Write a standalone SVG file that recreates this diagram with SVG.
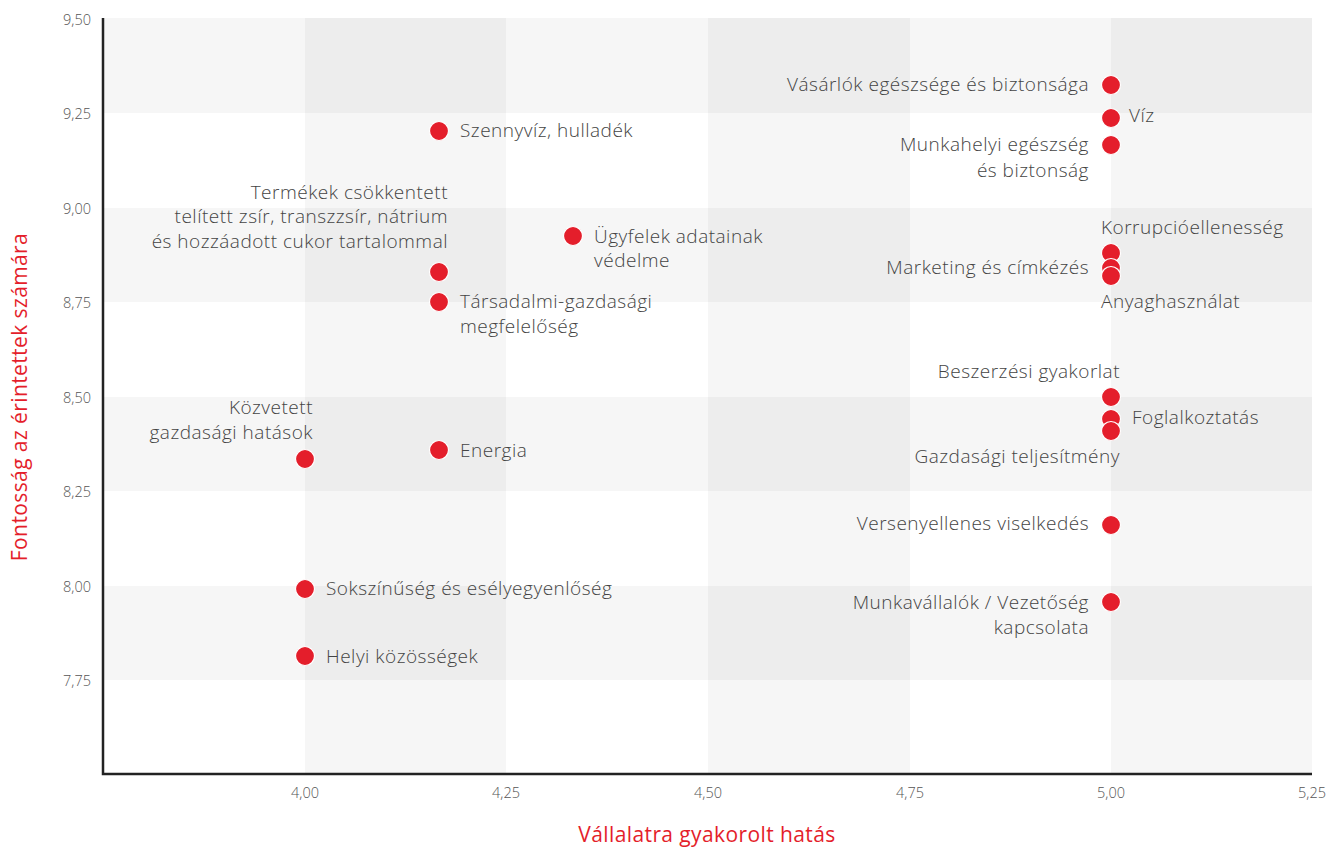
<svg xmlns="http://www.w3.org/2000/svg" width="1328" height="847" viewBox="0 0 1328 847">
<style>
.band{fill:#000;fill-opacity:0.035}
.axis{stroke:#222;stroke-width:2.5;fill:none}
.tick{font-family:"Open Sans",Lato,sans-serif;font-size:14.5px;fill:#555;font-weight:300}
.lbl{font-family:"Open Sans",Lato,sans-serif;font-size:19px;fill:#444;font-weight:300;letter-spacing:0.5px}
.title{font-family:"Open Sans",Lato,sans-serif;font-size:21px;fill:#e41e2b;letter-spacing:0.4px}
.dot{fill:#e41e2b;stroke:#fff;stroke-width:1.2}
.end{text-anchor:end}
.mid{text-anchor:middle}
</style>
<rect width="1328" height="847" fill="#fff"/>
<g id="bands">
<rect class="band" x="103" y="18" width="1209" height="95"/>
<rect class="band" x="103" y="208" width="1209" height="94"/>
<rect class="band" x="103" y="397" width="1209" height="94"/>
<rect class="band" x="103" y="586" width="1209" height="94"/>
<rect class="band" x="305" y="18" width="201" height="756"/>
<rect class="band" x="708" y="18" width="202" height="756"/>
<rect class="band" x="1111" y="18" width="201" height="756"/>
</g>
<g id="connectors">
<path class="axis" d="M103,18 V774 H1312"/>
</g>
<g id="ticks">
<text class="tick end" x="91" y="25">9,50</text>
<text class="tick end" x="91" y="119">9,25</text>
<text class="tick end" x="91" y="214">9,00</text>
<text class="tick end" x="91" y="308">8,75</text>
<text class="tick end" x="91" y="403">8,50</text>
<text class="tick end" x="91" y="497">8,25</text>
<text class="tick end" x="91" y="592">8,00</text>
<text class="tick end" x="91" y="686">7,75</text>
<text class="tick mid" x="305" y="798">4,00</text>
<text class="tick mid" x="506" y="798">4,25</text>
<text class="tick mid" x="708" y="798">4,50</text>
<text class="tick mid" x="910" y="798">4,75</text>
<text class="tick mid" x="1111" y="798">5,00</text>
<text class="tick mid" x="1312" y="798">5,25</text>
</g>
<g id="titles">
<text class="title mid" x="707" y="842">Vállalatra gyakorolt hatás</text>
<text class="title mid" transform="translate(27,397) rotate(-90)">Fontosság az érintettek számára</text>
</g>
<g id="n-vasarlok"><circle class="dot" cx="1111" cy="85" r="9.5"/><text class="lbl end" x="1089" y="91">Vásárlók egészsége és biztonsága</text></g>
<g id="n-viz"><circle class="dot" cx="1111" cy="118" r="9.5"/><text class="lbl" x="1129" y="122">Víz</text></g>
<g id="n-munkahelyi"><circle class="dot" cx="1111" cy="145" r="9.5"/><text class="lbl end" x="1089" y="151">Munkahelyi egészség</text><text class="lbl end" x="1089" y="177">és biztonság</text></g>
<g id="n-szennyviz"><circle class="dot" cx="439" cy="131" r="9.5"/><text class="lbl" x="460" y="137">Szennyvíz, hulladék</text></g>
<g id="n-termekek"><circle class="dot" cx="439" cy="272" r="9.5"/><text class="lbl end" x="448" y="199">Termékek csökkentett</text><text class="lbl end" x="448" y="223">telített zsír, transzzsír, nátrium</text><text class="lbl end" x="448" y="248">és hozzáadott cukor tartalommal</text></g>
<g id="n-ugyfelek"><circle class="dot" cx="573" cy="236" r="9.5"/><text class="lbl" x="594" y="243">Ügyfelek adatainak</text><text class="lbl" x="594" y="267">védelme</text></g>
<g id="n-tarsadalmi"><circle class="dot" cx="439" cy="302" r="9.5"/><text class="lbl" x="460" y="308">Társadalmi-gazdasági</text><text class="lbl" x="460" y="333">megfelelőség</text></g>
<g id="n-korrupcio"><circle class="dot" cx="1111" cy="253" r="9.5"/><text class="lbl" x="1101" y="234">Korrupcióellenesség</text></g>
<g id="n-marketing"><circle class="dot" cx="1111" cy="268" r="9.5"/><text class="lbl end" x="1089" y="274">Marketing és címkézés</text></g>
<g id="n-anyag"><circle class="dot" cx="1111" cy="276" r="9.5"/><text class="lbl" x="1101" y="308">Anyaghasználat</text></g>
<g id="n-beszerzesi"><circle class="dot" cx="1111" cy="397" r="9.5"/><text class="lbl end" x="1120" y="378">Beszerzési gyakorlat</text></g>
<g id="n-foglalkoztatas"><circle class="dot" cx="1111" cy="419" r="9.5"/><text class="lbl" x="1132" y="424">Foglalkoztatás</text></g>
<g id="n-gazdasagi"><circle class="dot" cx="1111" cy="431" r="9.5"/><text class="lbl end" x="1120" y="463">Gazdasági teljesítmény</text></g>
<g id="n-kozvetett"><circle class="dot" cx="305" cy="459" r="9.5"/><text class="lbl end" x="313" y="414">Közvetett</text><text class="lbl end" x="313" y="439">gazdasági hatások</text></g>
<g id="n-energia"><circle class="dot" cx="439" cy="450" r="9.5"/><text class="lbl" x="460" y="457">Energia</text></g>
<g id="n-verseny"><circle class="dot" cx="1111" cy="525" r="9.5"/><text class="lbl end" x="1089" y="530">Versenyellenes viselkedés</text></g>
<g id="n-sokszinuseg"><circle class="dot" cx="305" cy="589" r="9.5"/><text class="lbl" x="326" y="595">Sokszínűség és esélyegyenlőség</text></g>
<g id="n-munkavallalok"><circle class="dot" cx="1111" cy="602" r="9.5"/><text class="lbl end" x="1089" y="609">Munkavállalók / Vezetőség</text><text class="lbl end" x="1089" y="634">kapcsolata</text></g>
<g id="n-helyi"><circle class="dot" cx="305" cy="656" r="9.5"/><text class="lbl" x="326" y="663">Helyi közösségek</text></g>
</svg>
